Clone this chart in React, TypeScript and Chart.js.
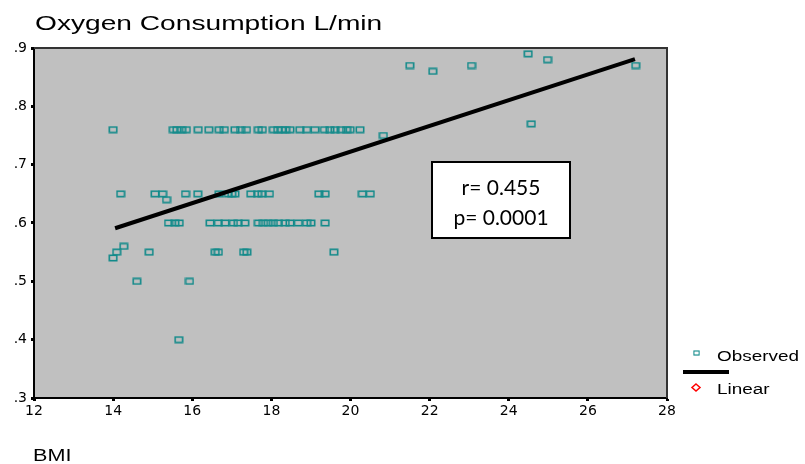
import React, { useEffect, useRef } from "react";
import { Chart, registerables } from "chart.js";
Chart.register(...registerables);

const TITLE = "Oxygen Consumption L/min";
const X_TITLE = "BMI";
const LEGEND_OBSERVED = "Observed";
const LEGEND_LINEAR = "Linear";
const STAT_LINES = ["r= 0.455", "p= 0.0001"];

const xTickMin = 12;
const xTickMax = 28;
const xTickStep = 2;
const yTickMin = 0.3;
const yTickMax = 0.9;
const yTickStep = 0.1;

// Observed points (BMI, oxygen consumption L/min)
const bmiRow076 = [14.0, 15.52, 15.61, 15.73, 15.85, 16.15, 16.42, 16.68, 16.81, 17.08, 17.22, 17.37, 17.67, 17.77, 18.05, 18.16, 18.26, 18.36, 18.47, 18.72, 18.89, 19.1, 19.34, 19.48, 19.61, 19.76, 19.9, 19.99, 20.24];
const bmiRow065 = [14.19, 15.06, 15.25, 15.83, 16.14, 16.68, 16.91, 17.0, 17.08, 17.48, 17.65, 17.76, 17.95, 19.2, 19.36, 20.3, 20.5];
const bmiRow060 = [15.4, 15.56, 15.67, 16.45, 16.66, 16.83, 17.04, 17.16, 17.33, 17.67, 17.8, 17.92, 18.05, 18.18, 18.35, 18.47, 18.68, 18.89, 19.0, 19.36];
const bmiRow055 = [14.09, 14.91, 16.58, 16.66, 17.3, 17.38, 19.58];
const bmiOther = [14.0, 14.27, 14.6, 15.93, 15.66, 15.35, 20.83, 21.5, 22.08, 23.06, 24.49, 24.98, 27.21, 24.57];
const vo2Other = [0.54, 0.56, 0.5, 0.5, 0.4, 0.64, 0.75, 0.87, 0.86, 0.87, 0.89, 0.88, 0.87, 0.77];

// Fitted linear regression line endpoints
const fitBmi = [14.05, 27.19];
const fitVo2 = [0.591, 0.881];

const TEAL = "#128a8a";

export default function App() {
  const ref = useRef<HTMLCanvasElement>(null);

  useEffect(() => {
    const canvas = ref.current;
    if (!canvas) return;

    const marker = document.createElement("canvas");
    marker.width = 10;
    marker.height = 8;
    const mc = marker.getContext("2d")!;
    mc.strokeStyle = TEAL;
    mc.lineWidth = 1.6;
    mc.strokeRect(1.3, 1.3, 7.4, 5.4);

    const observed: { x: number; y: number }[] = [];
    bmiRow076.forEach((x) => observed.push({ x, y: 0.76 }));
    bmiRow065.forEach((x) => observed.push({ x, y: 0.65 }));
    bmiRow060.forEach((x) => observed.push({ x, y: 0.6 }));
    bmiRow055.forEach((x) => observed.push({ x, y: 0.55 }));
    bmiOther.forEach((x, i) => observed.push({ x, y: vo2Other[i] }));

    const fit = fitBmi.map((x, i) => ({ x, y: fitVo2[i] }));

    const stretchText = (
      ctx: CanvasRenderingContext2D,
      text: string,
      x: number,
      y: number,
      font: string,
      sx: number,
      align: CanvasTextAlign = "left"
    ) => {
      ctx.save();
      ctx.font = font;
      ctx.fillStyle = "#000";
      ctx.textAlign = align;
      ctx.textBaseline = "alphabetic";
      ctx.translate(x, y);
      ctx.scale(sx, 1);
      ctx.fillText(text, 0, 0);
      ctx.restore();
    };

    const decor = {
      id: "decor",
      beforeDraw(chart: any) {
        const { ctx, chartArea: a } = chart;
        ctx.save();
        ctx.fillStyle = "#fff";
        ctx.fillRect(0, 0, chart.width, chart.height);
        ctx.fillStyle = "#c0c0c0";
        ctx.fillRect(a.left, a.top, a.right - a.left, a.bottom - a.top);
        ctx.restore();
      },
      afterDraw(chart: any) {
        const { ctx, chartArea: a } = chart;
        ctx.save();
        // top and right frame
        ctx.strokeStyle = "#333";
        ctx.lineWidth = 2;
        ctx.beginPath();
        ctx.moveTo(a.left, a.top);
        ctx.lineTo(a.right, a.top);
        ctx.lineTo(a.right, a.bottom);
        ctx.stroke();

        // title
        stretchText(ctx, TITLE, 35, 30, "21px 'Liberation Sans', Arial, sans-serif", 1.34);
        // x axis title
        stretchText(ctx, X_TITLE, 33, 461, "16px 'Liberation Sans', Arial, sans-serif", 1.35);

        // stats box
        ctx.fillStyle = "#fff";
        ctx.fillRect(432, 162, 138, 76);
        ctx.strokeStyle = "#000";
        ctx.lineWidth = 2;
        ctx.strokeRect(432, 162, 138, 76);
        ctx.fillStyle = "#000";
        ctx.font = "21px Lato, 'Open Sans', sans-serif";
        ctx.textAlign = "center";
        ctx.textBaseline = "alphabetic";
        ctx.fillText(STAT_LINES[0], 501, 195);
        ctx.fillText(STAT_LINES[1], 501, 225);

        // legend
        ctx.drawImage(marker, 0, 0, 10, 8, 693, 350, 7, 6);
        stretchText(ctx, LEGEND_OBSERVED, 717, 361, "14px 'Liberation Sans', Arial, sans-serif", 1.35);
        ctx.strokeStyle = "#000";
        ctx.lineWidth = 4;
        ctx.beginPath();
        ctx.moveTo(683, 372);
        ctx.lineTo(729, 372);
        ctx.stroke();
        ctx.strokeStyle = "#ff0000";
        ctx.lineWidth = 1.5;
        ctx.beginPath();
        ctx.moveTo(696, 384);
        ctx.lineTo(700, 387.5);
        ctx.lineTo(696, 391);
        ctx.lineTo(692, 387.5);
        ctx.closePath();
        ctx.stroke();
        stretchText(ctx, LEGEND_LINEAR, 717, 394, "14px 'Liberation Sans', Arial, sans-serif", 1.35);
        ctx.restore();
      },
    };

    const tickFont = { family: "'DejaVu Sans', sans-serif", size: 14 };

    const chart = new Chart(canvas, {
      type: "scatter",
      data: {
        datasets: [
          {
            label: LEGEND_OBSERVED,
            data: observed,
            pointStyle: marker as any,
            pointRadius: 4,
            showLine: false,
            order: 2,
          },
          {
            label: LEGEND_LINEAR,
            data: fit,
            showLine: true,
            borderColor: "#000",
            borderWidth: 4,
            pointRadius: 0,
            order: 1,
          } as any,
        ],
      },
      options: {
        responsive: false,
        animation: false,
        events: [],
        layout: { padding: { top: 48, right: 138, left: 0, bottom: 0 } },
        plugins: {
          legend: { display: false },
          tooltip: { enabled: false },
          title: { display: false },
        },
        scales: {
          x: {
            type: "linear",
            min: xTickMin,
            max: xTickMax,
            afterFit: (s: any) => {
              s.height = 66;
            },
            ticks: {
              stepSize: xTickStep,
              color: "#000",
              font: tickFont,
              padding: 2,
              maxRotation: 0,
            },
            grid: {
              display: true,
              drawOnChartArea: false,
              drawTicks: true,
              tickLength: 3,
              tickWidth: 3,
              tickColor: "#000",
            },
            border: { display: true, color: "#000", width: 2 },
          },
          y: {
            type: "linear",
            min: yTickMin,
            max: yTickMax,
            afterFit: (s: any) => {
              s.width = 34;
            },
            ticks: {
              stepSize: yTickStep,
              color: "#000",
              font: tickFont,
              padding: 4,
              callback: (v: any) => "." + Math.round(Number(v) * 10),
            },
            grid: {
              display: true,
              drawOnChartArea: false,
              drawTicks: true,
              tickLength: 3,
              tickWidth: 3,
              tickColor: "#000",
            },
            border: { display: true, color: "#000", width: 2 },
          },
        },
      },
      plugins: [decor],
    });

    return () => chart.destroy();
  }, []);

  return (
    <div style={{ position: "fixed", left: 0, top: 0, width: 805, height: 464, background: "#fff" }}>
      <canvas ref={ref} width={805} height={464} style={{ width: 805, height: 464, display: "block" }} />
    </div>
  );
}
